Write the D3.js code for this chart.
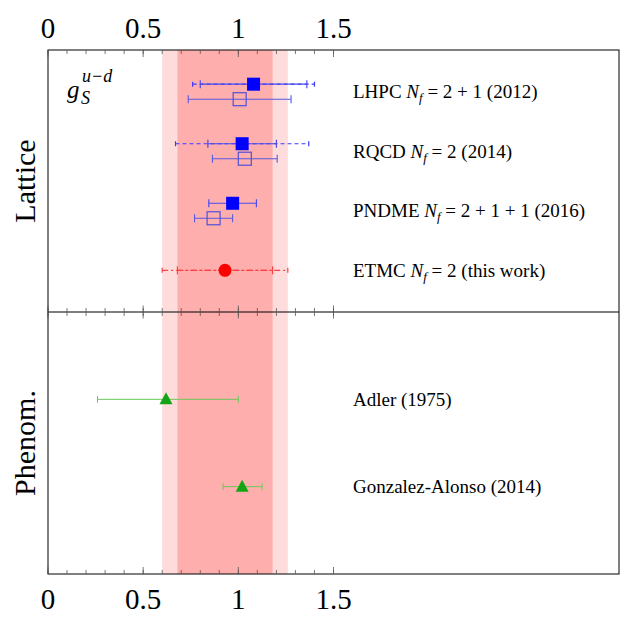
<!DOCTYPE html>
<html>
<head>
<meta charset="utf-8">
<script src="https://cdn.jsdelivr.net/npm/d3@7"></script>
<style>
  body { margin: 0; background: #fff; }
  svg { font-family: "Liberation Serif", "Times New Roman", serif; }
</style>
</head>
<body>
<svg width="641" height="622"></svg>
<script>
// Lattice results (upper panel)
var latticeRows = ["LHPC", "RQCD", "PNDME", "ETMC"];
var latticeText = [
  ["LHPC ", " = 2 + 1 (2012)"],
  ["RQCD ", " = 2 (2014)"],
  ["PNDME ", " = 2 + 1 + 1 (2016)"],
  ["ETMC ", " = 2 (this work)"]
];
// filled squares: value, statistical error, total error
var filledRows = ["LHPC", "RQCD", "PNDME"];
var filledVal  = [1.08, 1.02, 0.97];
var filledStat = [0.28, 0.18, 0.125];
var filledTot  = [0.32, 0.35, null];
// open squares: value, error
var openVal = [1.007, 1.034, 0.87];
var openErr = [0.27, 0.17, 0.10];
// ETMC (this work)
var etmcVal = 0.93, etmcStat = 0.25, etmcTot = 0.33;

// Phenomenology (lower panel)
var phenoRows = ["Adler (1975)", "Gonzalez-Alonso (2014)"];
var phenoVal = [0.62, 1.02];
var phenoLo  = [0.26, 0.92];
var phenoHi  = [1.00, 1.125];

var majorTicks = [0, 0.5, 1, 1.5];
var minorTicks = d3.range(0, 16).map(function(i){ return i / 10; });

function desenha() {
  var svg = d3.select("svg");
  // bordas do gráfico (px)
  var xEsq = 48, xDir = 619, yTopo = 50, yMeio = 312, yBase = 574;

  var x = d3.scaleLinear().domain([0, 3]).range([xEsq, xDir]);
  var yLat = d3.scalePoint().domain(latticeRows).range([yTopo, yMeio]).padding(0.7);
  var yPhe = d3.scalePoint().domain(phenoRows).range([yMeio, yBase]).padding(1);

  // bandas de erro do ETMC
  svg.append("rect")
    .attr("x", x(etmcVal - etmcTot)).attr("y", yTopo)
    .attr("width", x(etmcVal + etmcTot) - x(etmcVal - etmcTot)).attr("height", yBase - yTopo)
    .attr("fill", "#ffdcdc");
  svg.append("rect")
    .attr("x", x(etmcVal - etmcStat)).attr("y", yTopo)
    .attr("width", x(etmcVal + etmcStat) - x(etmcVal - etmcStat)).attr("height", yBase - yTopo)
    .attr("fill", "#ffaeae");

  // moldura
  svg.append("rect")
    .attr("x", xEsq).attr("y", yTopo).attr("width", xDir - xEsq).attr("height", yBase - yTopo)
    .attr("fill", "none").attr("stroke", "#000").attr("stroke-width", 1);
  svg.append("line")
    .attr("x1", xEsq).attr("x2", xDir).attr("y1", yMeio).attr("y2", yMeio)
    .attr("stroke", "#000").attr("stroke-width", 1.2);

  // ticks
  function ticks(y, up, down, vals) {
    svg.append("g").selectAll("line").data(vals).enter().append("line")
      .attr("x1", function(d){ return x(d); }).attr("x2", function(d){ return x(d); })
      .attr("y1", y - up).attr("y2", y + down)
      .attr("stroke", "#555").attr("stroke-width", 0.8);
  }
  ticks(yTopo, 0, 4, minorTicks);
  ticks(yTopo, 0, 7, majorTicks);
  ticks(yBase, 4, 0, minorTicks);
  ticks(yBase, 7, 0, majorTicks);
  ticks(yMeio, 4, 4, minorTicks);
  ticks(yMeio, 6.5, 6.5, majorTicks);

  svg.append("g").selectAll("text").data(majorTicks).enter().append("text")
    .attr("x", function(d){ return x(d); }).attr("y", 38)
    .attr("text-anchor", "middle").attr("font-size", 29)
    .text(function(d){ return d; });
  svg.append("g").selectAll("text").data(majorTicks).enter().append("text")
    .attr("x", function(d){ return x(d); }).attr("y", 609)
    .attr("text-anchor", "middle").attr("font-size", 29)
    .text(function(d){ return d; });

  // rótulos dos painéis
  svg.append("text").attr("transform", "translate(35," + ((yTopo + yMeio) / 2) + ") rotate(-90)")
    .attr("text-anchor", "middle").attr("font-size", 30).text("Lattice");
  svg.append("text").attr("transform", "translate(35," + ((yMeio + yBase) / 2) + ") rotate(-90)")
    .attr("text-anchor", "middle").attr("font-size", 30).text("Phenom.");

  // g_S^{u-d}
  var gs = svg.append("text").attr("x", 67).attr("y", 98).attr("font-style", "italic").attr("font-size", 25);
  gs.append("tspan").text("g");
  gs.append("tspan").attr("x", 81).attr("y", 104).attr("font-size", 18).text("S");
  gs.append("tspan").attr("x", 82).attr("y", 82).attr("font-size", 18).text("u\u2212d");

  // barra de erro com traços nas pontas
  function errBar(g, lo, hi, y, color, width, dash, cap) {
    g.append("line").attr("x1", x(lo)).attr("x2", x(hi)).attr("y1", y).attr("y2", y)
      .attr("stroke", color).attr("stroke-width", width).attr("stroke-dasharray", dash);
    [lo, hi].forEach(function(v){
      g.append("line").attr("x1", x(v)).attr("x2", x(v)).attr("y1", y - cap).attr("y2", y + cap)
        .attr("stroke", color).attr("stroke-width", width);
    });
  }

  var gLat = svg.append("g");
  var sq = 13, off = 7.5;
  filledRows.forEach(function(r, i) {
    var yc = yLat(r) - off;
    if (filledTot[i] != null)
      errBar(gLat, filledVal[i] - filledTot[i], filledVal[i] + filledTot[i], yc, "#3a3aff", 1.2, "4,3", 2.5);
    errBar(gLat, filledVal[i] - filledStat[i], filledVal[i] + filledStat[i], yc, "#4a4aee", 1.2, null, 4);
    gLat.append("rect").attr("x", x(filledVal[i]) - sq / 2).attr("y", yc - sq / 2)
      .attr("width", sq).attr("height", sq).attr("fill", "#0000ff");

    var yo = yLat(r) + off;
    errBar(gLat, openVal[i] - openErr[i], openVal[i] + openErr[i], yo, "#5a5ae0", 1.1, null, 4);
    gLat.append("rect").attr("x", x(openVal[i]) - sq / 2).attr("y", yo - sq / 2)
      .attr("width", sq).attr("height", sq).attr("fill", "none")
      .attr("stroke", "#5050d8").attr("stroke-width", 1.2);
  });

  // ETMC
  var yE = yLat("ETMC");
  errBar(gLat, etmcVal - etmcTot, etmcVal + etmcTot, yE, "#ff4040", 1.2, "6,3,2,3", 2.5);
  errBar(gLat, etmcVal - etmcStat, etmcVal + etmcStat, yE, "#ff4040", 1.2, "6,3,2,3", 4);
  gLat.append("circle").attr("cx", x(etmcVal)).attr("cy", yE).attr("r", 6.5).attr("fill", "#ff0000");

  // textos das colaborações
  latticeRows.forEach(function(r, i) {
    var t = svg.append("text").attr("x", 353).attr("y", yLat(r) + 6.5).attr("font-size", 19);
    t.append("tspan").text(latticeText[i][0]);
    t.append("tspan").attr("font-style", "italic").text("N");
    t.append("tspan").attr("font-style", "italic").attr("font-size", 13).attr("dy", 4).text("f");
    t.append("tspan").attr("dy", -4).text(latticeText[i][1]);
  });

  // fenomenologia
  var gPhe = svg.append("g");
  phenoRows.forEach(function(r, i) {
    var yc = yPhe(r);
    errBar(gPhe, phenoLo[i], phenoHi[i], yc, "#6cc85a", 1, null, 3.5);
    var tx = x(phenoVal[i]);
    gPhe.append("path")
      .attr("d", "M" + (tx - 6.5) + "," + (yc + 5) + "L" + (tx + 6.5) + "," + (yc + 5) + "L" + tx + "," + (yc - 7) + "Z")
      .attr("fill", "#14a514");
    svg.append("text").attr("x", 353).attr("y", yc + 6.5).attr("font-size", 19).text(r);
  });
}

desenha();
</script>
</body>
</html>
